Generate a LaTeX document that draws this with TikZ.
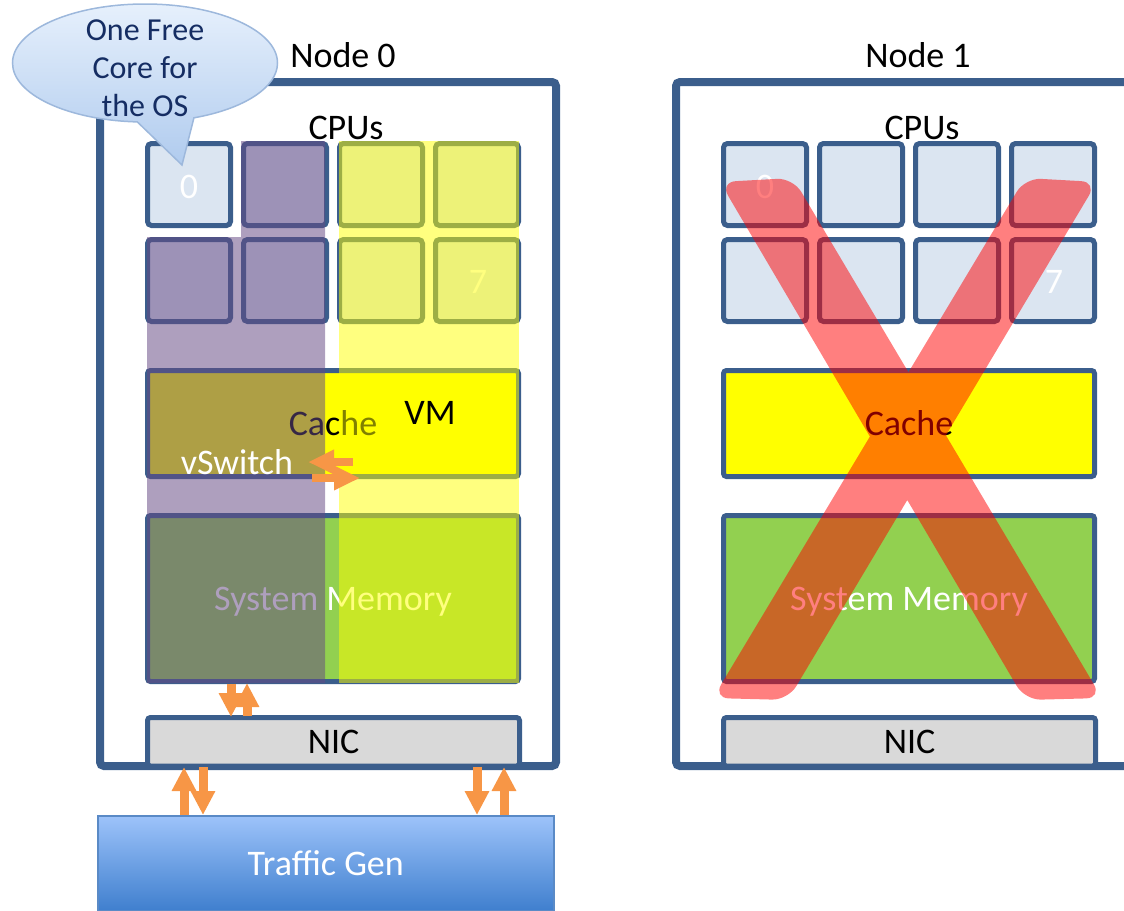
\documentclass[tikz,border=0pt]{standalone}
\usepackage{fontspec}
\setmainfont{Carlito}
\usetikzlibrary{arrows.meta,shapes.callouts}

\definecolor{frameblue}{HTML}{3B5E8C}
\definecolor{cellblue}{HTML}{DBE5F1}
\definecolor{cacheyellow}{HTML}{FFFF00}
\definecolor{memgreen}{HTML}{92D050}
\definecolor{nicgray}{HTML}{D9D9D9}
\definecolor{arroworange}{HTML}{F79646}
\definecolor{violetstrip}{HTML}{664A84}
\definecolor{xred}{HTML}{FF0000}
\definecolor{bubbletop}{HTML}{E6F0FC}
\definecolor{bubblebottom}{HTML}{B0CBEE}
\definecolor{bubbleedge}{HTML}{9DB8DC}
\definecolor{bubbletext}{HTML}{152D63}
\definecolor{tgentop}{HTML}{9DC3FA}
\definecolor{tgenbottom}{HTML}{3F7FCE}
\definecolor{tgenedge}{HTML}{5A8AC6}

\begin{document}
\begin{tikzpicture}[x=0.5pt,y=-0.5pt,
  txt/.style={font=\fontsize{18}{19}\selectfont, inner sep=0pt},
  notetxt/.style={font=\fontsize{16}{19}\selectfont, inner sep=0pt},
  frame/.style={draw=frameblue, line width=4pt, rounded corners=2pt},
  cpu/.style={draw=frameblue, line width=2.5pt, fill=cellblue, rounded corners=2pt,
              minimum width=41.5pt, minimum height=41pt, inner sep=0pt},
  unit/.style={draw=frameblue, line width=2.5pt, rounded corners=1.5pt, inner sep=0pt, txt,
               text height=14pt, text depth=2.4pt},
  flow/.style={draw=arroworange, line width=4.5pt, -{Triangle[width=11.5pt,length=12pt]}},
  sideflow/.style={draw=arroworange, line width=4pt, -{Triangle[width=11.5pt,length=13pt]}},
]
\useasboundingbox (0,0) rectangle (1124,910);
\clip (0,0) rectangle (1124,910);

% ---- node frames ----
\draw[frame] (100,82) rectangle (556,766);
\draw[frame] (676,82) rectangle (1140,766);

\node[txt] (title0) at (343,55) {Node 0};
\node[txt] (title1) at (918,55) {Node 1};
\node[txt] (cpus0) at (346,128) {CPUs};
\node[txt] (cpus1) at (922,128) {CPUs};

% ---- CPU cores, caches, memories, NICs of both nodes ----
\foreach \n/\dx in {0/0,1/576}{
  \foreach \c in {0,...,3}{
    \foreach \r in {0,1}{
      \node[cpu] (cpu\n-\c-\r) at (189+96*\c+\dx,184.5+96*\r) {};
    }
  }
  \node[unit, fill=cacheyellow, minimum width=185.5pt, minimum height=53pt]
    (cache\n) at (333+\dx,423.5) {Cache};
  \node[unit, fill=memgreen, text=white, minimum width=185.5pt, minimum height=83pt]
    (mem\n) at (333+\dx,598.5) {System Memory};
  \node[unit, fill=nicgray, minimum width=186pt, minimum height=24.25pt]
    (nic\n) at (333.5+\dx,741.75) {NIC};
  \node[txt, text=white] (core0-\n) at (189+\dx,187) {0};
  \node[txt, text=white] (core7-\n) at (478+\dx,282) {7};
}

% ---- core partitioning on node 0: vSwitch cores and VM cores ----
\fill[violetstrip, fill opacity=.53]
  (241,141) -- (325,141) -- (325,683) -- (147,683) -- (147,237) -- (241,237) -- cycle;
\fill[cacheyellow, fill opacity=.5] (339,141) rectangle (519,683);

\node[txt, text=white] (vswitch) at (237,462) {vSwitch};
\node[txt] (vm) at (430,413) {VM};

% vSwitch <-> VM
\coordinate (vm-out) at (353,462);
\coordinate (vs-in) at (308,462);
\coordinate (vs-out) at (312,478);
\coordinate (vm-in) at (360,478);
\draw[sideflow] (vm-out) -- (vs-in);
\draw[sideflow] (vs-out) -- (vm-in);

% memory <-> NIC
\coordinate (mem-down-a) at (231,684);
\coordinate (mem-down-b) at (231,717);
\coordinate (nic-up-a) at (247,716);
\coordinate (nic-up-b) at (247,683);
\draw[flow] (mem-down-a) -- (mem-down-b);
\draw[flow] (nic-up-a) -- (nic-up-b);

% ---- traffic generator ----
\node[draw=tgenedge, line width=0.75pt, top color=tgentop, bottom color=tgenbottom,
      minimum width=228pt, minimum height=47.5pt, anchor=north west, txt, text=white]
  (tgen) at (97,815) {Traffic Gen};

\coordinate (tx1-a) at (184,815); \coordinate (tx1-b) at (184,767);
\coordinate (rx1-a) at (203,767); \coordinate (rx1-b) at (203,815);
\coordinate (rx2-a) at (477,767); \coordinate (rx2-b) at (477,815);
\coordinate (tx2-a) at (504,815); \coordinate (tx2-b) at (504,767);
\draw[flow] (tx1-a) -- (tx1-b);
\draw[flow] (rx1-a) -- (rx1-b);
\draw[flow] (rx2-a) -- (rx2-b);
\draw[flow] (tx2-a) -- (tx2-b);

% ---- node 1 crossed out ----
\fill[xred, fill opacity=.5, rounded corners=8pt]
  (720,182) -- (793,178) -- (1102,698) -- (1025,700) -- cycle
  (1025,178) -- (1097,182) -- (788,700) -- (713,698) -- cycle;

% ---- callout ----
\node[ellipse callout, draw=bubbleedge, line width=0.75pt,
      top color=bubbletop, bottom color=bubblebottom,
      minimum width=132.5pt, minimum height=59pt, inner sep=0pt,
      callout absolute pointer={(182,165)}, callout pointer arc=25]
  (bubble) at (145,63) {};
\node[notetxt, text=bubbletext, align=center] (bubblenote) at (145,68) {One Free\\Core for\\the OS};
\end{tikzpicture}
\end{document}
